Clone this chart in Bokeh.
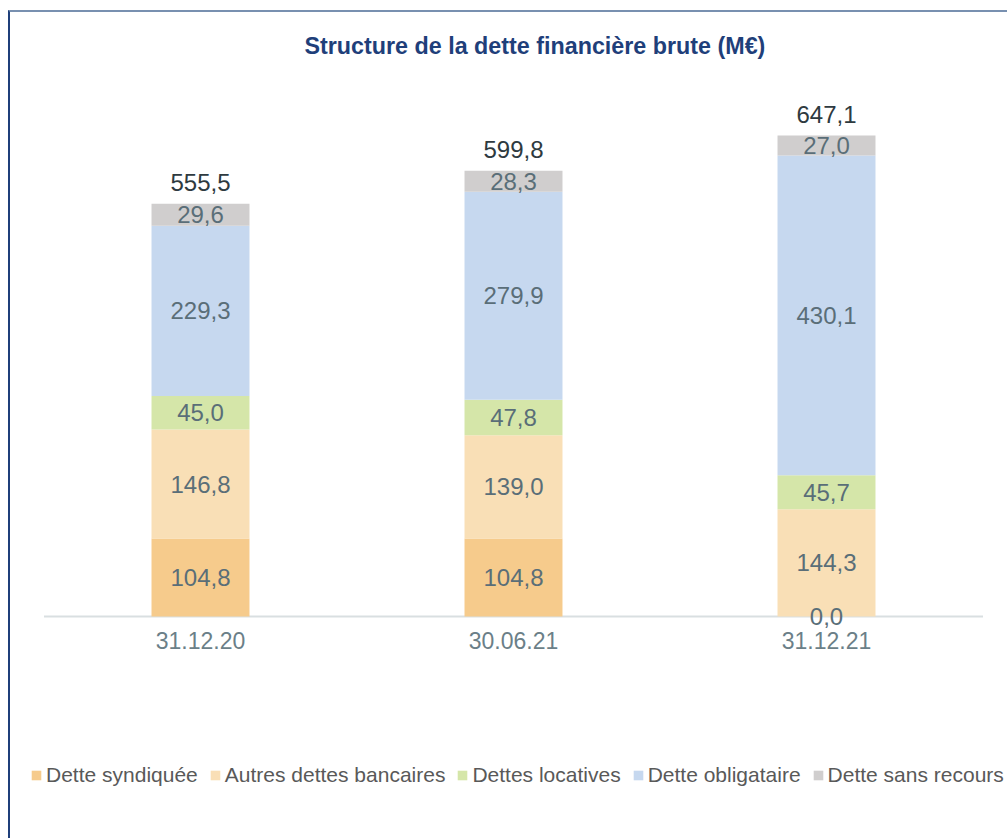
import numpy as np
from bokeh.plotting import figure
from bokeh.models import ColumnDataSource, Range1d, Legend, LegendItem, FixedTicker
from bokeh.core.properties import value
from bokeh.embed import file_html
from bokeh.resources import INLINE

# ---- data ----
dates = ["31.12.20", "30.06.21", "31.12.21"]
series_names = ["Dette syndiquée", "Autres dettes bancaires", "Dettes locatives",
                "Dette obligataire", "Dette sans recours"]
dette_syndiquee = [104.8, 104.8, 0.0]
autres_dettes_bancaires = [146.8, 139.0, 144.3]
dettes_locatives = [45.0, 47.8, 45.7]
dette_obligataire = [229.3, 279.9, 430.1]
dette_sans_recours = [29.6, 28.3, 27.0]
totals = [555.5, 599.8, 647.1]

colors = ["#F6CB8C", "#F9DFB6", "#D5E6A9", "#C6D8EF", "#D0CECE"]
keys = ["s0", "s1", "s2", "s3", "s4"]
series = [dette_syndiquee, autres_dettes_bancaires, dettes_locatives,
          dette_obligataire, dette_sans_recours]

FONT = "Liberation Sans"

def fmt(v):
    return f"{v:.1f}".replace(".", ",")

idx = list(range(len(dates)))
data = {"x": idx}
for k, s in zip(keys, series):
    data[k] = s
src = ColumnDataSource(data)

# layout (pixels)
W = 997
FH = 772
PITCH = 313.0
FIRST_CENTER = 190.0
x_start = -FIRST_CENTER / PITCH
x_end = (W - FIRST_CENTER) / PITCH
PXU = 550.0 / 740.0
y_end = 740.0
y_start = -(FH - 550.0) / PXU

p = figure(x_range=Range1d(x_start, x_end), y_range=Range1d(y_start, y_end),
           frame_width=W, frame_height=FH, output_backend="svg", toolbar_location=None,
           min_border_left=0, min_border_right=0, min_border_top=54, min_border_bottom=0)
p.styles = {"margin-left": "8px", "margin-top": "10px",
            "border-left": "2px solid #1F3F7A", "border-top": "2px solid #7890B0"}

p.title.text = "Structure de la dette financière brute (M€)"
p.title.align = "left"
p.title.offset = 294
p.title.text_font = FONT
p.title.text_font_size = "23.3px"
p.title.text_font_style = "bold"
p.title.text_color = "#1F3F7A"
p.title.standoff = 16

# baseline under the bars, one category pitch per category
p.segment(x0=[-0.5], x1=[len(dates) - 0.5], y0=[0], y1=[0], line_color="#D9DFE1", line_width=2)

renderers = p.vbar_stack(keys, x="x", width=0.313, source=src, color=colors,
                         line_color=None)

# segment labels
bottoms = np.zeros(len(dates))
lx, ly, lt = [], [], []
for s in series:
    arr = np.array(s)
    for i in idx:
        lx.append(i)
        ly.append(bottoms[i] + arr[i] / 2)
        lt.append(fmt(s[i]))
    bottoms = bottoms + arr
lsrc = ColumnDataSource(dict(x=lx, y=ly, t=lt))
p.text(x="x", y="y", text="t", source=lsrc, text_align="center", text_baseline="middle",
       text_font=value(FONT), text_font_size="24px", text_color="#5A6E78")

tsrc = ColumnDataSource(dict(x=idx, y=totals, t=[fmt(v) for v in totals]))
p.text(x="x", y="y", text="t", source=tsrc, text_align="center", text_baseline="bottom",
       y_offset=-13, text_font=value(FONT), text_font_size="24px", text_color="#2E3A40")

p.yaxis.visible = False
p.xgrid.visible = False
p.ygrid.visible = False
p.outline_line_color = None

xa = p.xaxis[0]
xa.ticker = FixedTicker(ticks=idx)
xa.major_label_overrides = {i: d for i, d in zip(idx, dates)}
xa.fixed_location = 0
xa.axis_line_color = None
xa.major_tick_line_color = None
xa.minor_tick_line_color = None
xa.major_label_text_font = FONT
xa.major_label_text_font_size = "23px"
xa.major_label_text_color = "#6B7F88"
xa.major_label_standoff = 9

legend = Legend(items=[LegendItem(label=n, renderers=[r]) for n, r in zip(series_names, renderers)],
                orientation="horizontal", location=(20, 51))
legend.padding = 0
legend.margin = 0
legend.border_line_color = None
legend.background_fill_alpha = 0
legend.glyph_width = 12
legend.glyph_height = 12
legend.label_standoff = 4
legend.spacing = 11
legend.label_text_font = FONT
legend.label_text_font_size = "21px"
legend.label_text_color = "#595959"
p.add_layout(legend, "center")

open("out.html", "w").write(file_html(p, INLINE))
